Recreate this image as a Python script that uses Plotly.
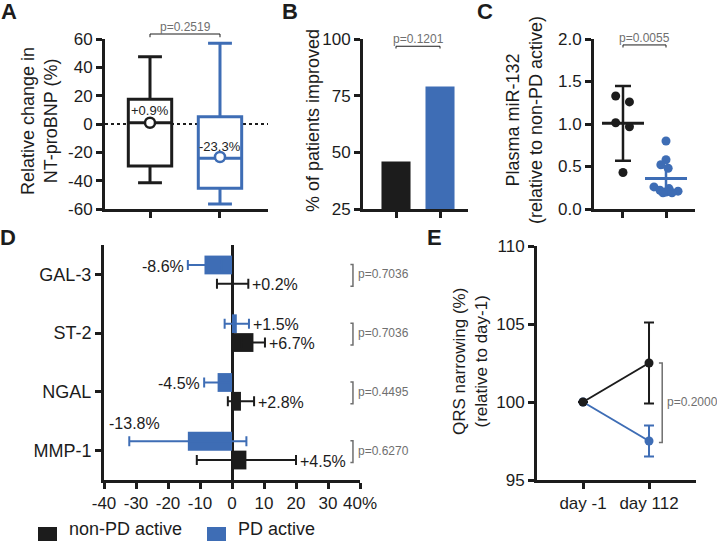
"""Five-panel PD active vs non-PD active figure (A-E) rebuilt with Plotly."""

import plotly.graph_objects as go

FONT = "Liberation Sans, Arial, sans-serif"
BLACK = "#1c1c1c"
BLUE = "#3e6db5"
GREY = "#6f6f6f"
W, H = 717, 541

# ---- Panel A: relative change in NT-proBNP (box stats) ----
a_groups = ["non-PD active", "PD active"]
a_low = [-41.4, -56.5]
a_q1 = [-29.6, -45.4]
a_median = [0.9, -24.2]
a_q3 = [17.4, 5.2]
a_high = [47.5, 57.0]
a_mean = [0.9, -23.3]
a_mean_text = ["+0.9%", "-23.3%"]
a_ticks = [-60, -40, -20, 0, 20, 40, 60]
a_ticktext = ["-60", "-40", "-20", "0", "20", "40", "60"]
a_p = "p=0.2519"

# ---- Panel B: % of patients improved ----
b_values = [46, 79]
b_p = "p=0.1201"

# ---- Panel C: plasma miR-132 ----
c_black = [1.33, 1.26, 1.015, 0.968, 0.43]
c_black_jitter = [-0.17, 0.15, -0.17, 0.15, 0.0]
c_blue = [0.80, 0.58, 0.52, 0.48, 0.26, 0.24, 0.22, 0.21, 0.20, 0.19, 0.19]
c_blue_jitter = [0.0, 0.0, -0.12, 0.05, -0.28, 0.07, -0.14, 0.28, 0.0, 0.14, -0.07]
c_mean = [1.008, 0.36]
c_err = [0.44, 0.13]
c_p = "p=0.0055"

# ---- Panel D: biomarker change ----
d_markers = ["MMP-1", "NGAL", "ST-2", "GAL-3"]
d_black = [4.5, 2.8, 6.7, 0.2]
d_black_err = [15.5, 4.1, 3.6, 4.9]
d_blue = [-13.8, -4.5, 1.5, -8.6]
d_blue_err = [18.3, 4.2, 3.8, 5.2]
d_p = ["p=0.6270", "p=0.4495", "p=0.7036", "p=0.7036"]
d_ticks = [-40, -30, -20, -10, 0, 10, 20, 30, 40]
d_ticktext = ["-40", "-30", "-20", "-10", "0", "10", "20", "30", "40%"]

# ---- Panel E: QRS narrowing ----
e_days = ["day -1", "day 112"]
e_black = [100, 102.5]
e_black_err = [0, 2.6]
e_blue = [100, 97.5]
e_blue_err = [0, 1.0]
e_p = "p=0.2000"


def px_x(p):
    return p / W


def px_y(p):
    return 1 - p / H


fig = go.Figure()

# Panel A boxes
for i, color in enumerate([BLACK, BLUE]):
    fig.add_trace(go.Box(
        x=[i], q1=[a_q1[i]], median=[a_median[i]], q3=[a_q3[i]],
        lowerfence=[a_low[i]], upperfence=[a_high[i]],
        width=0.62, whiskerwidth=0.55, boxpoints=False,
        fillcolor="white", line=dict(color=color, width=3),
        xaxis="x", yaxis="y", showlegend=False, hoverinfo="skip",
    ))
    fig.add_trace(go.Scatter(
        x=[i], y=[a_mean[i]], mode="markers",
        marker=dict(symbol="circle", size=10, color="white",
                    line=dict(color=color, width=2.5)),
        xaxis="x", yaxis="y", showlegend=False,
    ))

# Panel B bars
fig.add_trace(go.Bar(
    x=[0, 1], y=b_values, width=0.66, marker=dict(color=[BLACK, BLUE], line=dict(width=0)),
    base=0, xaxis="x2", yaxis="y2", showlegend=False,
))

# Panel C scatter + mean/SD
for vals, jit, color, k in [(c_black, c_black_jitter, BLACK, 0), (c_blue, c_blue_jitter, BLUE, 1)]:
    fig.add_trace(go.Scatter(
        x=[k + j for j in jit], y=vals, mode="markers",
        marker=dict(size=9, color=color),
        xaxis="x3", yaxis="y3", showlegend=False,
    ))
    fig.add_trace(go.Scatter(
        x=[k], y=[c_mean[k]], mode="markers",
        marker=dict(symbol="line-ew", size=30, line=dict(color=color, width=3)),
        error_y=dict(type="data", array=[c_err[k]], color=color,
                     thickness=2.5, width=8 if k == 0 else 6),
        xaxis="x3", yaxis="y3", showlegend=False,
    ))

# Panel D horizontal bars
d_pos = list(range(len(d_markers)))
fig.add_trace(go.Bar(
    y=d_pos, x=d_blue, orientation="h", width=0.32, offset=0,
    marker=dict(color=BLUE, line=dict(width=0)),
    error_x=dict(type="data", array=d_blue_err, color=BLUE, thickness=2, width=5),
    xaxis="x4", yaxis="y4", showlegend=False,
))
fig.add_trace(go.Bar(
    y=d_pos, x=d_black, orientation="h", width=0.32, offset=-0.32,
    marker=dict(color=BLACK, line=dict(width=0)),
    error_x=dict(type="data", array=d_black_err, color=BLACK, thickness=2, width=5),
    xaxis="x4", yaxis="y4", showlegend=False,
))

# Panel E lines
for vals, err, color in [(e_blue, e_blue_err, BLUE), (e_black, e_black_err, BLACK)]:
    fig.add_trace(go.Scatter(
        x=[0, 1], y=vals, mode="lines+markers",
        line=dict(color=color, width=2), marker=dict(size=9, color=color),
        error_y=dict(type="data", array=err, color=color, thickness=2, width=5),
        xaxis="x5", yaxis="y5", showlegend=False,
    ))

annotations = []
shapes = []


def add_text(x, y, text, size=16, color=BLACK, xref="paper", yref="paper", **kw):
    kw.setdefault("xanchor", "center")
    kw.setdefault("yanchor", "middle")
    annotations.append(dict(x=x, y=y, text=text, showarrow=False, xref=xref, yref=yref,
                            font=dict(family=FONT, size=size, color=color), **kw))


# panel letters
for letter, (lx, ly) in {"A": (9, 11), "B": (290, 11), "C": (485, 11),
                         "D": (8, 237), "E": (434, 237)}.items():
    add_text(px_x(lx), px_y(ly), f"<b>{letter}</b>", size=22)

# axis titles
add_text(px_x(40), px_y(121), "Relative change in<br>NT-proBNP (%)", size=18, textangle=-90)
add_text(px_x(313), px_y(121), "% of patients improved", size=18, textangle=-90)
add_text(px_x(524), px_y(120), "Plasma miR-132<br>(relative to non-PD active)", size=18, textangle=-90)
add_text(px_x(470), px_y(362), "QRS narrowing (%)<br>(relative to day-1)", size=17, textangle=-90)

# Panel A extras
shapes.append(dict(type="line", xref="x", yref="y", x0=-0.643, x1=1.686, y0=0, y1=0,
                   line=dict(color=BLACK, width=2, dash="dot"), layer="below"))
for i in range(2):
    add_text(i, a_mean[i], a_mean_text[i], size=13, color="#222", xref="x", yref="y",
             yshift=12 if i == 0 else 11)
ya = px_y(34)
shapes.append(dict(type="path", xref="x", yref="paper",
                   path=f"M 0,{ya - 0.006} L 0,{ya} L 1,{ya} L 1,{ya - 0.006}",
                   line=dict(color=BLACK, width=1)))
add_text(0.5, ya, a_p, size=12, color=GREY, xref="x", yref="paper", yanchor="bottom", yshift=-2)

# Panel B bracket
shapes.append(dict(type="path", xref="x2", yref="y2",
                   path="M 0,95.8 L 0,96.8 L 1,96.8 L 1,95.8",
                   line=dict(color=BLACK, width=1)))
add_text(0.5, 96.8, b_p, size=12, color=GREY, xref="x2", yref="y2", yanchor="bottom", yshift=-2)

# Panel C bracket
shapes.append(dict(type="path", xref="x3", yref="y3",
                   path="M 0,1.90 L 0,1.93 L 1,1.93 L 1,1.90",
                   line=dict(color=BLACK, width=1)))
add_text(0.5, 1.93, c_p, size=12, color=GREY, xref="x3", yref="y3", yanchor="bottom", yshift=-2)

# Panel D value labels and p brackets
for i in d_pos:
    for val, err, off in [(d_blue[i], d_blue_err[i], 0.14), (d_black[i], d_black_err[i], -0.18)]:
        label = f"{val:+.1f}%"
        if d_markers[i] == "MMP-1" and off > 0:
            add_text(val - err + 1.5, i + 0.34, label, size=16, xref="x4", yref="y4",
                     yanchor="bottom", yshift=-3)
        elif val < 0:
            add_text(val - err, i + off, label, size=16, xref="x4", yref="y4",
                     xanchor="right", xshift=-2)
        else:
            add_text(val + err, i + off, label, size=16, xref="x4", yref="y4",
                     xanchor="left", xshift=2)
    shapes.append(dict(type="path", xref="x4", yref="y4",
                       path=f"M 37,{i + 0.17} L 37.8,{i + 0.17} L 37.8,{i - 0.2} L 37,{i - 0.2}",
                       line=dict(color=GREY, width=1.5)))
    add_text(37.8, i, d_p[i], size=12, color=GREY, xref="x4", yref="y4",
             xanchor="left", xshift=3)

# Panel D legend
for sx, color, label, tx in [(38, BLACK, "non-PD active", 67), (207, BLUE, "PD active", 236)]:
    shapes.append(dict(type="rect", xref="paper", yref="paper",
                       x0=px_x(sx), x1=px_x(sx + 19), y0=px_y(546), y1=px_y(527),
                       fillcolor=color, line=dict(width=0)))
    add_text(px_x(tx), px_y(529), label, size=18, xanchor="left")

# Panel E bracket
shapes.append(dict(type="path", xref="x5", yref="y5",
                   path="M 1.15,102.5 L 1.2,102.5 L 1.2,97.4 L 1.15,97.4",
                   line=dict(color=GREY, width=1.5)))
add_text(1.2, 100, e_p, size=12, color=GREY, xref="x5", yref="y5", xanchor="left", xshift=3)

axis_common = dict(showline=True, linecolor=BLACK, linewidth=3, ticks="outside",
                   tickcolor=BLACK, tickwidth=2.5, ticklen=6, showgrid=False,
                   zeroline=False, automargin=False,
                   tickfont=dict(family=FONT, size=17, color=BLACK))
top_y = [px_y(209), px_y(39)]

fig.update_layout(
    template="none",
    width=W, height=H, margin=dict(l=0, r=0, t=0, b=0, pad=0, autoexpand=False),
    plot_bgcolor="white", paper_bgcolor="white",
    font=dict(family=FONT, color=BLACK), showlegend=False, barmode="overlay",
    xaxis=dict(axis_common, domain=[px_x(105), px_x(268)], range=[-0.643, 1.686],
               tickvals=[0, 1], showticklabels=False),
    yaxis=dict(axis_common, domain=top_y, range=[-60, 60], tickvals=a_ticks,
               ticktext=a_ticktext, anchor="x"),
    xaxis2=dict(axis_common, domain=[px_x(363), px_x(468)], range=[-0.75, 1.636],
                tickvals=[0, 1], showticklabels=False, anchor="y2"),
    yaxis2=dict(axis_common, domain=top_y, range=[25, 100], dtick=25, anchor="x2"),
    xaxis3=dict(axis_common, domain=[px_x(594), px_x(695)], range=[-0.674, 1.674],
                tickvals=[0, 1], showticklabels=False, anchor="y3"),
    yaxis3=dict(axis_common, domain=top_y, range=[0, 2], dtick=0.5, tickformat=".1f",
                anchor="x3"),
    xaxis4=dict(axis_common, domain=[px_x(104), px_x(360)], range=[-40, 40],
                tickvals=d_ticks, ticktext=d_ticktext, anchor="y4",
                zeroline=True, zerolinecolor=BLACK, zerolinewidth=2.5),
    yaxis4=dict(axis_common, domain=[px_y(480), px_y(245)], range=[-0.5, 3.5],
                tickvals=d_pos, ticktext=d_markers, anchor="x4",
                tickfont=dict(family=FONT, size=18, color=BLACK)),
    xaxis5=dict(axis_common, domain=[px_x(537), px_x(696)], range=[-0.697, 1.712],
                tickvals=[0, 1], ticktext=e_days, anchor="y5"),
    yaxis5=dict(axis_common, domain=[px_y(480), px_y(246)], range=[95, 110], dtick=5,
                anchor="x5"),
    annotations=annotations, shapes=shapes,
)

# the default page keeps an 8px body margin; drop it so the figure sits at (0, 0)
fig.write_html("out.html", config={"displayModeBar": False},
               post_script="document.body.style.margin='0px';")
